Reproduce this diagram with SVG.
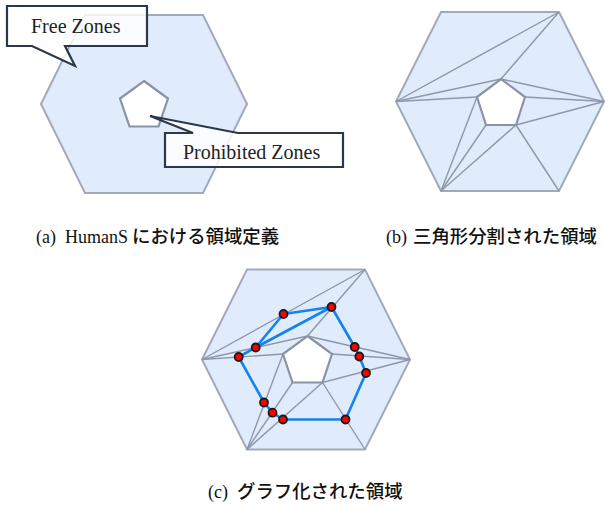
<svg xmlns="http://www.w3.org/2000/svg" width="605" height="506" viewBox="0 0 605 506">
<style>
.hex{fill:#e0ebfc;stroke:#a2aaba;stroke-width:2;stroke-linejoin:miter}
.pent{fill:#ffffff;stroke:#8a93a6;stroke-width:2.2;stroke-linejoin:miter}
.tri{stroke:#8f98ab;stroke-width:1.4;fill:none}
.call{fill:#ffffff;fill-opacity:0.82;stroke:#2b384a;stroke-width:2.2;stroke-linejoin:miter}
.edge{stroke:#1482f0;stroke-width:2.6;fill:none;stroke-linecap:round}
.node{fill:#ff0000;stroke:#1a1a1a;stroke-width:1.8}
</style>

<!-- Panel (a) -->
<g id="panel-a">
  <polygon class="hex" points="41,104 85,15 203,15 247,104 203,193 85,193"/>
  <polygon class="pent" points="144,81 168,98.5 158.5,126.5 129.5,126.5 120,98.5"/>
  <g id="callout-free">
    <path class="call" d="M7,6 H147 V46 H65 L75,66 L32,46 H7 Z"/>
    <text x="31" y="33" font-family="'Liberation Serif', 'Times New Roman', serif" font-size="20" fill="#222">Free Zones</text>
  </g>
  <g id="callout-prohibited">
    <path class="call" d="M165,133 H193 L150,116 L238,133 H343 V167 H165 Z"/>
    <text x="183" y="159" font-family="'Liberation Serif', 'Times New Roman', serif" font-size="20" fill="#222">Prohibited Zones</text>
  </g>
  <text x="36" y="243" font-family="'Liberation Serif', serif" font-size="18" fill="#111">(a)</text>
  <text x="65" y="243" font-family="'Liberation Serif', serif" font-size="18" fill="#111">HumanS</text>
  <text x="132" y="243" font-family="'Noto Sans CJK JP', 'Noto Sans', sans-serif" font-size="18.4" font-weight="500" fill="#111">における領域定義</text>
</g>

<!-- Panel (b) -->
<g id="panel-b">
  <polygon class="hex" points="396,101.5 441,12 559,12 604,101.5 559,191 441,191"/>
  <g class="tri">
    <line x1="559" y1="12" x2="396" y2="101.5"/>
    <line x1="559" y1="12" x2="501" y2="79"/>
    <line x1="396" y1="101.5" x2="501" y2="79"/>
    <line x1="396" y1="101.5" x2="477" y2="97"/>
    <line x1="501" y1="79" x2="604" y2="101.5"/>
    <line x1="525" y1="97" x2="604" y2="101.5"/>
    <line x1="516" y1="125" x2="604" y2="101.5"/>
    <line x1="516" y1="125" x2="441" y2="191"/>
    <line x1="516" y1="125" x2="559" y2="191"/>
    <line x1="486" y1="125" x2="441" y2="191"/>
    <line x1="477" y1="97" x2="441" y2="191"/>
  </g>
  <polygon class="pent" points="501,79 525,97 516,125 486,125 477,97"/>
  <text x="386" y="243" font-family="'Liberation Serif', serif" font-size="18" fill="#111">(b)</text>
  <text x="413" y="243" font-family="'Noto Sans CJK JP', 'Noto Sans', sans-serif" font-size="18.4" font-weight="500" fill="#111">三角形分割された領域</text>
</g>

<!-- Panel (c) -->
<g id="panel-c">
  <polygon class="hex" points="202,359.5 247,269.5 365,269.5 410,359.5 365,449.5 247,449.5"/>
  <g class="tri">
    <line x1="365" y1="269.5" x2="202" y2="359.5"/>
    <line x1="365" y1="269.5" x2="307.5" y2="336"/>
    <line x1="202" y1="359.5" x2="307.5" y2="336"/>
    <line x1="202" y1="359.5" x2="283" y2="354"/>
    <line x1="307.5" y1="336" x2="410" y2="359.5"/>
    <line x1="332" y1="354" x2="410" y2="359.5"/>
    <line x1="322.5" y1="382.5" x2="410" y2="359.5"/>
    <line x1="322.5" y1="382.5" x2="247" y2="449.5"/>
    <line x1="322.5" y1="382.5" x2="365" y2="449.5"/>
    <line x1="292.5" y1="382.5" x2="247" y2="449.5"/>
    <line x1="283" y1="354" x2="247" y2="449.5"/>
  </g>
  <polygon class="pent" points="307.5,336 332,354 322.5,382.5 292.5,382.5 283,354"/>
  <g id="graph-edges">
    <line class="edge" x1="283.5" y1="314" x2="331.5" y2="307"/>
    <line class="edge" x1="283.5" y1="314" x2="255.7" y2="347.5"/>
    <line class="edge" x1="255.7" y1="347.5" x2="331.5" y2="307"/>
    <line class="edge" x1="255.7" y1="347.5" x2="238.7" y2="357"/>
    <line class="edge" x1="238.7" y1="357" x2="264" y2="402.5"/>
    <line class="edge" x1="264" y1="402.5" x2="272.5" y2="412.7"/>
    <line class="edge" x1="272.5" y1="412.7" x2="283" y2="419.5"/>
    <line class="edge" x1="283" y1="419.5" x2="345.5" y2="419.5"/>
    <line class="edge" x1="345.5" y1="419.5" x2="366" y2="373"/>
    <line class="edge" x1="366" y1="373" x2="359.3" y2="356.5"/>
    <line class="edge" x1="359.3" y1="356.5" x2="354.7" y2="347"/>
    <line class="edge" x1="354.7" y1="347" x2="331.5" y2="307"/>
  </g>
  <g id="graph-nodes">
    <circle id="n1" class="node" cx="283.5" cy="314" r="4"/>
    <circle id="n2" class="node" cx="331.5" cy="307" r="4"/>
    <circle id="n3" class="node" cx="255.7" cy="347.5" r="4"/>
    <circle id="n4" class="node" cx="238.7" cy="357" r="4"/>
    <circle id="n5" class="node" cx="354.7" cy="347" r="4"/>
    <circle id="n6" class="node" cx="359.3" cy="356.5" r="4"/>
    <circle id="n7" class="node" cx="366" cy="373" r="4"/>
    <circle id="n8" class="node" cx="264" cy="402.5" r="4"/>
    <circle id="n9" class="node" cx="272.5" cy="412.7" r="4"/>
    <circle id="n10" class="node" cx="283" cy="419.5" r="4"/>
    <circle id="n11" class="node" cx="345.5" cy="419.5" r="4"/>
  </g>
  <text x="208" y="498" font-family="'Liberation Serif', serif" font-size="18" fill="#111">(c)</text>
  <text x="237" y="498" font-family="'Noto Sans CJK JP', 'Noto Sans', sans-serif" font-size="18.4" font-weight="500" fill="#111">グラフ化された領域</text>
</g>
</svg>
